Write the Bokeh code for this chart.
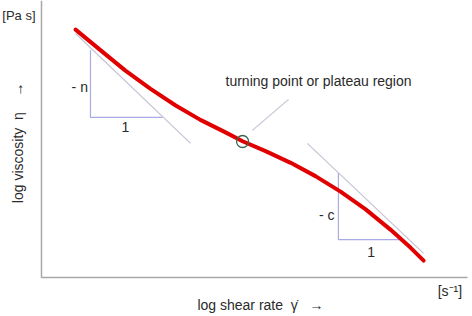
import math
from bokeh.plotting import figure
from bokeh.models import Range1d, Label
from bokeh.embed import file_html
from bokeh.resources import INLINE

# log shear rate (0..100 arbitrary units) vs log viscosity (0..100 arbitrary units)
curve_x = [8.0, 13.9, 19.7, 25.6, 31.5, 37.3, 43.2, 47.2, 52.6, 58.5,
           64.3, 70.2, 76.1, 81.9, 86.6, 89.7]
curve_y = [89.5, 82.0, 74.7, 68.1, 62.1, 56.9, 52.4, 49.2, 45.6, 41.4,
           36.6, 31.0, 24.6, 17.3, 10.8, 6.1]

tangent1_x = [8.0, 35.0]
tangent1_y = [88.1, 48.4]
tri1_x = [11.5, 11.5, 28.4]
tri1_y = [82.0, 57.8, 57.8]

tangent2_x = [62.4, 89.7]
tangent2_y = [48.4, 8.7]
tri2_x = [69.7, 69.7, 84.3]
tri2_y = [37.6, 13.7, 13.7]

turning_x = [47.2]
turning_y = [49.1]
leader_x = [49.5, 58.0]
leader_y = [53.1, 64.3]

axis_x = [0, 0, 100]
axis_y = [100, 0, 0]

FONT = "Liberation Sans"
TXT = "#2a2a2a"
SP = "\u00a0"

p = figure(width=472, height=316, output_backend="svg", toolbar_location=None,
           x_range=Range1d(-9.62, 101.17), y_range=Range1d(-14.08, 100.0),
           min_border=0, x_axis_location=None, y_axis_location=None)
p.grid.visible = False
p.outline_line_color = None
p.background_fill_color = "white"

# axes
p.line(axis_x, axis_y, line_color="#a8a8a8", line_width=1.5)

# tangents and slope triangles
p.line(tangent1_x, tangent1_y, line_color="#c4c4d4", line_width=1.2)
p.line(tri1_x, tri1_y, line_color="#a9a9e6", line_width=1.2)
p.line(tangent2_x, tangent2_y, line_color="#c4c4d4", line_width=1.2)
p.line(tri2_x, tri2_y, line_color="#a9a9e6", line_width=1.2)
p.line(leader_x, leader_y, line_color="#c4c4d4", line_width=1.2)

# flow curve
p.line(curve_x, curve_y, line_color="#e10000", line_width=4, line_join="round", line_cap="round")

# turning point marker
p.scatter(turning_x, turning_y, size=12, marker="circle", fill_color=None,
          line_color="#3d6650", line_width=1.3)

def lab(x, y, t, align="left", base="middle", angle=0.0, size="14px"):
    p.add_layout(Label(x=x, y=y, text=t, text_font=FONT, text_font_size=size,
                       text_color=TXT, text_align=align, text_baseline=base, angle=angle))

lab(43.2, 70.8, "turning point or plateau region")
lab(10.9, 68.6, "- n", align="right")
lab(19.7, 54.2, "1", align="center")
lab(68.8, 22.7, "- c", align="right")
lab(77.4, 9.1, "1", align="center")

lab(-9.2, 94.6, "[Pa s]", size="13px")
lab(-5.6, 48.6, "log viscosity" + SP * 2 + "\u03b7" + SP * 4 + "\u2192",
    align="center", angle=math.pi / 2)
lab(51.4, -10.1, "log shear rate" + SP * 2 + "\u03b3\u0307" + SP * 3 + "\u2192", align="center")
lab(93.0, -4.7, "[s\u207b\u00b9]")

open("out.html", "w").write(file_html(p, INLINE))
